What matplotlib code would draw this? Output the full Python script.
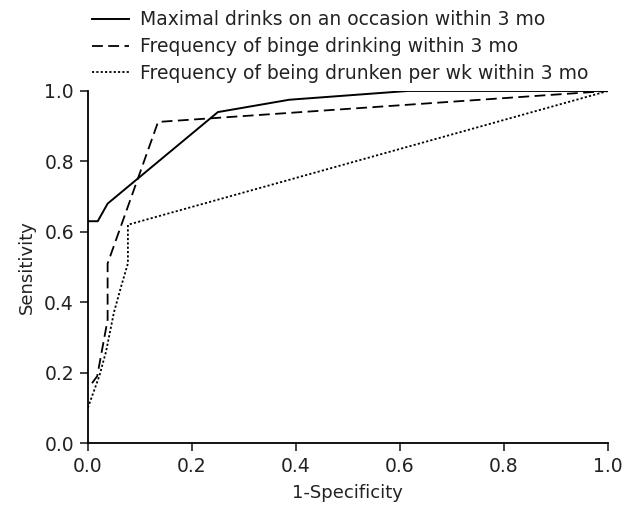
import matplotlib
matplotlib.use("Agg")
import matplotlib.pyplot as plt

plt.rcParams['font.family'] = ['DejaVu Sans']

# ROC curves
max_x = [0.0, 0.019, 0.038, 0.25, 0.387, 0.615, 1.0]
max_y = [0.63, 0.63, 0.68, 0.94, 0.975, 1.0, 1.0]

binge_x = [0.008, 0.018, 0.038, 0.038, 0.135, 1.0]
binge_y = [0.17, 0.19, 0.35, 0.51, 0.912, 1.0]

drunk_x = [0.0, 0.022, 0.035, 0.05, 0.065, 0.077, 0.077, 1.0]
drunk_y = [0.10, 0.19, 0.26, 0.37, 0.45, 0.51, 0.62, 1.0]

labels = ["Maximal drinks on an occasion within 3 mo",
          "Frequency of binge drinking within 3 mo",
          "Frequency of being drunken per wk within 3 mo"]

fig = plt.figure(figsize=(6.32, 5.11), dpi=100)
ax = fig.add_axes([0.139, 0.133, 0.823, 0.689])

l1, = ax.plot(max_x, max_y, color='black', lw=1.4, linestyle='-')
l2, = ax.plot(binge_x, binge_y, color='black', lw=1.3, linestyle=(0, (6, 3)))
l3, = ax.plot(drunk_x, drunk_y, color='black', lw=1.3, linestyle=(0, (1.2, 1.2)))

ax.set_xlim(0, 1)
ax.set_ylim(0, 1)
ax.set_xticks([0, 0.2, 0.4, 0.6, 0.8, 1.0])
ax.set_yticks([0, 0.2, 0.4, 0.6, 0.8, 1.0])
ax.set_xticklabels(["0.0", "0.2", "0.4", "0.6", "0.8", "1.0"])
ax.set_yticklabels(["0.0", "0.2", "0.4", "0.6", "0.8", "1.0"])
ax.tick_params(direction='out', length=6, width=1.2, labelsize=13.5, colors='#222222', pad=4)
for s in ['top', 'right']:
  ax.spines[s].set_visible(False)
for s in ['left', 'bottom']:
  ax.spines[s].set_linewidth(1.3)
ax.set_xlabel("1-Specificity", fontsize=13, color='#222222', labelpad=6)
ax.set_ylabel("Sensitivity", fontsize=13, color='#222222', labelpad=6)

fig.legend([l1, l2, l3], labels, loc='upper left', bbox_to_anchor=(0.119, 1.013),
           frameon=False, fontsize=13.5, handlelength=1.95, handletextpad=0.6,
           labelspacing=0.42, labelcolor='#222222')

fig.savefig("out.png", dpi=100)
